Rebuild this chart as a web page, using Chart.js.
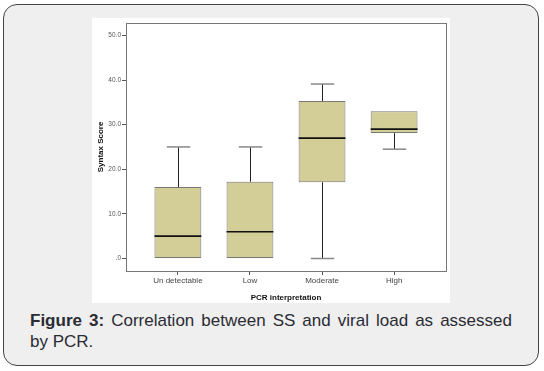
<!DOCTYPE html>
<html>
<head>
<meta charset="utf-8">
<script src="https://cdn.jsdelivr.net/npm/chart.js@4/dist/chart.umd.min.js"></script>
<style>
  html, body { margin: 0; padding: 0; background: #fff; }
  body { width: 544px; height: 371px; position: relative; overflow: hidden; font-family: "Liberation Sans", Arial, sans-serif; }
  #frame {
    position: absolute; left: 3px; top: 4px; width: 534px; height: 360px;
    border: 1.5px solid #444; border-radius: 14px; background: #efefef;
  }
  #plot { position: absolute; left: 92px; top: 18px; width: 358px; height: 285px; background: #fff; }
  #caption {
    position: absolute; left: 30px; top: 310px; width: 482px;
    font-size: 17px; line-height: 21px; color: #2b2b33; text-align: justify;
  }
</style>
</head>
<body>
<div id="frame"></div>
<div id="plot"><canvas id="boxChart" width="358" height="285"></canvas></div>
<div id="caption"><b>Figure 3:</b> Correlation between SS and viral load as assessed by PCR.</div>
<script>
const categories = ['Un detectable', 'Low', 'Moderate', 'High'];
const mins    = [0, 0, 0, 24.5];
const q1s     = [0, 0, 17.1, 28.1];
const medians = [5.0, 6.0, 27.0, 29.0];
const q3s     = [16.0, 17.2, 35.3, 33.0];
const maxs    = [25.0, 25.0, 39.1, 33.0];
const yTickValues = [0, 10, 20, 30, 40, 50];

// whiskers, caps and medians drawn through the chart's scales
const boxExtras = {
    id: 'boxExtras',
    beforeDatasetsDraw(chart) {
        const { ctx, scales: { x, y } } = chart;
        const bars = chart.getDatasetMeta(0).data;
        ctx.save();
        categories.forEach((c, i) => {
            const px = Math.round(x.getPixelForValue(i)) + 0.5;
            const capHalf = bars[i].width / 4;
            const segs = [[q3s[i], maxs[i]], [mins[i], q1s[i]]];
            segs.forEach(([a, b]) => {
                if (b - a <= 0) return;
                ctx.strokeStyle = '#222';
                ctx.lineWidth = 1;
                ctx.beginPath();
                ctx.moveTo(px, y.getPixelForValue(a));
                ctx.lineTo(px, y.getPixelForValue(b));
                ctx.stroke();
            });
            ctx.strokeStyle = '#888';
            ctx.lineWidth = 1.5;
            if (maxs[i] > q3s[i]) {
                const cy = y.getPixelForValue(maxs[i]);
                ctx.beginPath(); ctx.moveTo(px - capHalf, cy); ctx.lineTo(px + capHalf, cy); ctx.stroke();
            }
            if (mins[i] < q1s[i]) {
                const cy = y.getPixelForValue(mins[i]);
                ctx.beginPath(); ctx.moveTo(px - capHalf, cy); ctx.lineTo(px + capHalf, cy); ctx.stroke();
            }
        });
        ctx.restore();
    },
    afterDatasetsDraw(chart) {
        const { ctx, chartArea, scales: { x, y } } = chart;
        const bars = chart.getDatasetMeta(0).data;
        ctx.save();
        categories.forEach((c, i) => {
            const px = x.getPixelForValue(i);
            const half = bars[i].width / 2;
            const my = y.getPixelForValue(medians[i]);
            ctx.strokeStyle = '#111';
            ctx.lineWidth = 1.7;
            ctx.beginPath(); ctx.moveTo(px - half, my); ctx.lineTo(px + half, my); ctx.stroke();
        });
        // plot frame
        ctx.strokeStyle = '#777';
        ctx.lineWidth = 1;
        ctx.strokeRect(Math.round(chartArea.left) + 0.5, Math.round(chartArea.top) + 0.5,
            Math.round(chartArea.right - chartArea.left), Math.round(chartArea.bottom - chartArea.top));
        ctx.restore();
    }
};

new Chart(document.getElementById('boxChart'), {
    type: 'bar',
    data: {
        datasets: [{
            data: categories.map((c, i) => ({ x: i, y: [q1s[i], q3s[i]] })),
            backgroundColor: '#d3cd98',
            borderColor: '#777',
            borderWidth: 1,
            borderSkipped: false,
            categoryPercentage: 1,
            barPercentage: 0.65
        }]
    },
    options: {
        responsive: false,
        animation: false,
        layout: { padding: { top: 4, right: 4, left: 0, bottom: 0 } },
        plugins: { legend: { display: false }, tooltip: { enabled: false } },
        scales: {
            x: {
                type: 'linear',
                offset: false,
                min: -0.72,
                max: 3.72,
                afterBuildTicks: s => { s.ticks = categories.map((c, i) => ({ value: i })); },
                afterFit: s => { s.height = 32; },
                grid: { drawOnChartArea: false, offset: false, tickLength: 4, color: '#555' },
                border: { display: false },
                ticks: {
                    callback: v => categories[v],
                    font: { family: 'Liberation Sans', size: 8 },
                    color: '#444',
                    padding: 1,
                    maxRotation: 0,
                    autoSkip: false
                },
                title: {
                    display: true,
                    text: 'PCR interpretation',
                    font: { family: 'Liberation Sans', size: 8, weight: 'bold' },
                    color: '#111',
                    padding: { top: 3, bottom: 0 }
                }
            },
            y: {
                min: -2.8,
                max: 52.8,
                afterBuildTicks: s => { s.ticks = yTickValues.map(v => ({ value: v })); },
                afterFit: s => { s.width = 34; },
                grid: { drawOnChartArea: false, tickLength: 4, color: '#555' },
                border: { display: false },
                ticks: {
                    callback: v => v === 0 ? '.0' : v.toFixed(1),
                    font: { family: 'Liberation Sans', size: 6.5 },
                    color: '#555',
                    padding: 1
                },
                title: {
                    display: true,
                    text: 'Syntax Score',
                    font: { family: 'Liberation Sans', size: 8, weight: 'bold' },
                    color: '#111',
                    padding: { top: 4, bottom: 0 }
                }
            }
        }
    },
    plugins: [boxExtras]
});
</script>
</body>
</html>
